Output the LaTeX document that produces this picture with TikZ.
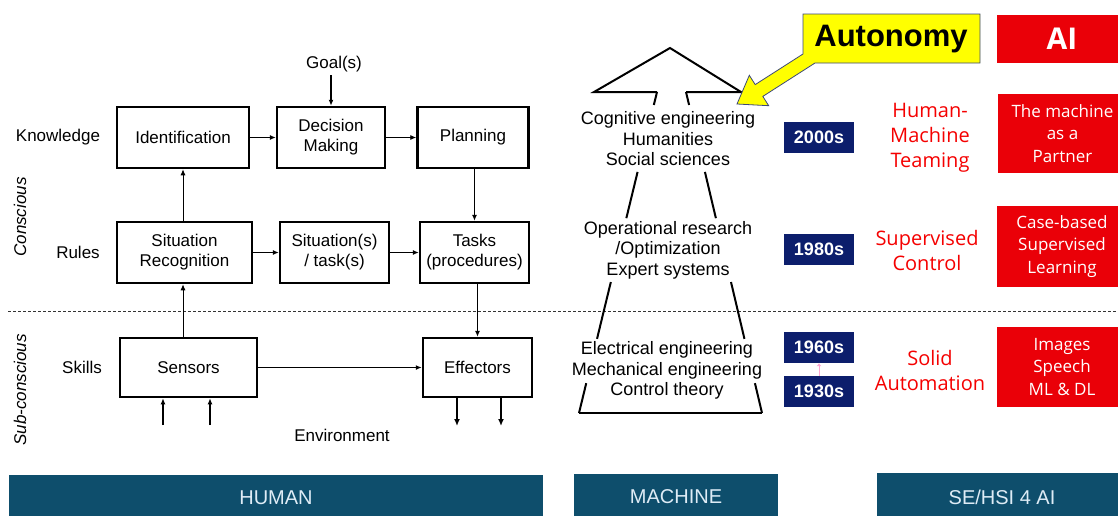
\documentclass[tikz,border=0pt]{standalone}
\usepackage{fontspec}
\setmainfont{Liberation Sans}
\newfontfamily\osans{Open Sans}
\usetikzlibrary{arrows.meta,calc}
\newcommand\fsz[2]{\fontsize{#1}{#2}\selectfont}
\definecolor{barc}{RGB}{14,78,108}
\definecolor{bartext}{RGB}{222,236,246}
\definecolor{navyc}{RGB}{12,30,108}
\definecolor{redc}{RGB}{234,0,8}
\definecolor{redt}{RGB}{245,0,0}
\definecolor{yelc}{RGB}{255,255,0}
\definecolor{yelb}{RGB}{60,72,120}
\definecolor{pinkc}{RGB}{255,165,210}
\begin{document}
\begin{tikzpicture}[x=1pt,y=-1pt,
  box/.style={draw, line width=2.5pt, align=center, font=\fsz{17}{20}, inner sep=0pt},
  lbl/.style={font=\fsz{17}{20}},
  arr/.style={-{Latex[length=6pt,width=5pt]}, line width=0.9pt},
  arrb/.style={-{Latex[length=6pt,width=5pt]}, line width=1.8pt},
  mtext/.style={align=center, font=\fsz{18}{20.5}, inner sep=0pt},
  mline/.style={line width=2pt},
  dec/.style={fill=navyc, text=white, font=\bfseries\fsz{18}{20}, minimum width=70pt, minimum height=31pt, inner sep=0pt},
  rbox/.style={fill=redc, text=white, align=center, font=\osans\fsz{17}{22.5}, inner sep=0pt, minimum width=130pt},
  rlab/.style={text=redt, align=center, font=\osans\fsz{20}{25}, inner sep=0pt},
  bartxt/.style={text=bartext, font=\fsz{20}{24}},
]
\useasboundingbox (0,0) rectangle (1118,515);
\clip (0,0) rectangle (1118,515);
\fill[white] (0,0) rectangle (1118,515);

% dashed separator
\coordinate (dsA) at (8,311);
\coordinate (dsB) at (1118,311);
\draw[dash pattern=on 3pt off 2pt, line width=0.8pt, black!80] (dsA) -- (dsB);

% ---------------- HUMAN part ----------------
\node[lbl] (know) at (58,137) {Knowledge};
\node[lbl] (rules) at (78,252) {Rules};
\node[lbl] (skills) at (82,367) {Skills};
\node[lbl, rotate=90, font=\itshape\fsz{17}{20}] (consc) at (20,217) {Conscious};
\node[lbl, rotate=90, font=\itshape\fsz{17}{20}] (subc) at (20,390) {Sub-conscious};

\node[box, minimum width=132pt, minimum height=61pt] (ident) at (183,137.5) {Identification};
\node[box, minimum width=108pt, minimum height=61pt] (dec) at (331,137.5) {Decision\\Making};
\node[box, minimum width=111pt, minimum height=61pt] (plan) at (473,137.5) {Planning};
\node[box, minimum width=135pt, minimum height=61pt] (sitrec) at (184.5,252.5) {Situation\\Recognition};
\node[box, minimum width=109pt, minimum height=61pt] (sits) at (334.5,252.5) {Situation(s)\\/ task(s)};
\node[box, minimum width=109pt, minimum height=61pt] (tasks) at (474.5,252.5) {Tasks\\(procedures)};
\node[box, minimum width=137pt, minimum height=59pt] (sens) at (188.5,367.5) {Sensors};
\node[box, minimum width=109pt, minimum height=59pt] (eff) at (477.5,367.5) {Effectors};

\node[lbl] (goal) at (334,64) {Goal(s)};
\node[lbl] (env) at (342,435) {Environment};

\draw[arrb] (goal.south -| dec.north) -- (dec.north);
\draw[arr] (ident) -- (dec);
\draw[arr] (dec) -- (plan);
\draw[arr] (sitrec) -- (sits);
\draw[arr] (sits) -- (tasks);
\draw[arr] (sitrec.north -| ident.south) -- (ident.south);
\draw[arr] (plan.south -| tasks.north) -- (tasks.north);
\draw[arr] (sens.north -| ident.south) -- (sitrec.south -| ident.south);
\draw[arr] (tasks.south -| eff.north) -- (eff.north);
\draw[arrb] (sens.east) -- (eff.west);

\coordinate (inA) at (163,425);
\coordinate (inB) at (210,425);
\coordinate (outA) at (457,426);
\coordinate (outB) at (501,426);
\draw[-{Latex[length=6pt,width=5pt]}, line width=1.5pt] (inA) -- (inA |- sens.south);
\draw[-{Latex[length=6pt,width=5pt]}, line width=1.5pt] (inB) -- (inB |- sens.south);
\draw[-{Latex[length=7pt,width=6pt]}, line width=2pt] (outA |- eff.south) -- (outA);
\draw[-{Latex[length=7pt,width=6pt]}, line width=2pt] (outB |- eff.south) -- (outB);

% ---------------- MACHINE part ----------------
\coordinate (hL) at (594,92);
\coordinate (apex) at (670,48);
\coordinate (hR) at (741,92);
\coordinate (sL) at (657,92);
\coordinate (sR) at (686,92);
\coordinate (bL) at (579,413);
\coordinate (bR) at (762,413);
\draw[mline, line join=miter] (sL) -- (hL) -- (apex) -- (hR) -- (sR);
\foreach \a/\b in {0/0.0405, 0.249/0.393, 0.592/0.769, 0.907/1}{
  \draw[mline] ($(sL)!\a!(bL)$) -- ($(sL)!\b!(bL)$);
  \draw[mline] ($(sR)!\a!(bR)$) -- ($(sR)!\b!(bR)$);
}
\draw[mline] (bL) -- (bR);

\node[mtext] (mt1) at (668,139) {Cognitive engineering\\Humanities\\Social sciences};
\node[mtext] (mt2) at (668,250) {Operational research\\/Optimization\\Expert systems};
\node[mtext] (mt3) at (667,370.5) {Electrical engineering\\Mechanical engineering\\Control theory};

\node[dec] (d2000) at (819,137.5) {2000s};
\node[dec] (d1980) at (819,249.5) {1980s};
\node[dec] (d1960) at (819,347.5) {1960s};
\node[dec] (d1930) at (819,391.5) {1930s};
\draw[-{Latex[length=3pt,width=5pt]}, pinkc, line width=0.8pt] (d1930.north) -- (d1960.south);

% Autonomy callout
\draw[fill=yelc, draw=yelb, line width=0.8pt, line join=miter]
  (803,14) -- (980,14) -- (980,63) -- (815,63) -- (762.8,96.4) -- (768.7,105.7)
  -- (737,104) -- (749.3,75.3) -- (755.2,84.6) -- (803,54) -- cycle;
\node[font=\bfseries\fsz{31}{34}] (auto) at (891,39) {Autonomy};

% ---------------- AI part ----------------
\node[rbox, minimum height=48pt, font=\osans\bfseries\fsz{30}{34}] (ai) at (1062,39) {AI};
\node[rbox, minimum height=79pt] (partner) at (1062.5,133.5) {The machine\\as a\\Partner};
\node[rbox, minimum height=81pt] (case) at (1062,246.5) {Case-based\\Supervised\\Learning};
\node[rbox, minimum height=80pt] (img) at (1062,367) {Images\\Speech\\ML \& DL};

\node[rlab] (hmt) at (930,138) {Human-\\Machine\\Teaming};
\node[rlab] (supc) at (927,250) {Supervised\\Control};
\node[rlab] (solid) at (930,370) {Solid\\Automation};

% ---------------- bottom bars ----------------
\fill[barc] (9,475) rectangle (543,520);
\fill[barc] (574,474) rectangle (778,520);
\fill[barc] (877,473) rectangle (1125,520);
\node[bartxt] (human) at (276,498) {HUMAN};
\node[bartxt] (machine) at (676,497) {MACHINE};
\node[bartxt] (sehsi) at (1002,497) {SE/HSI 4 AI};
\end{tikzpicture}
\end{document}
